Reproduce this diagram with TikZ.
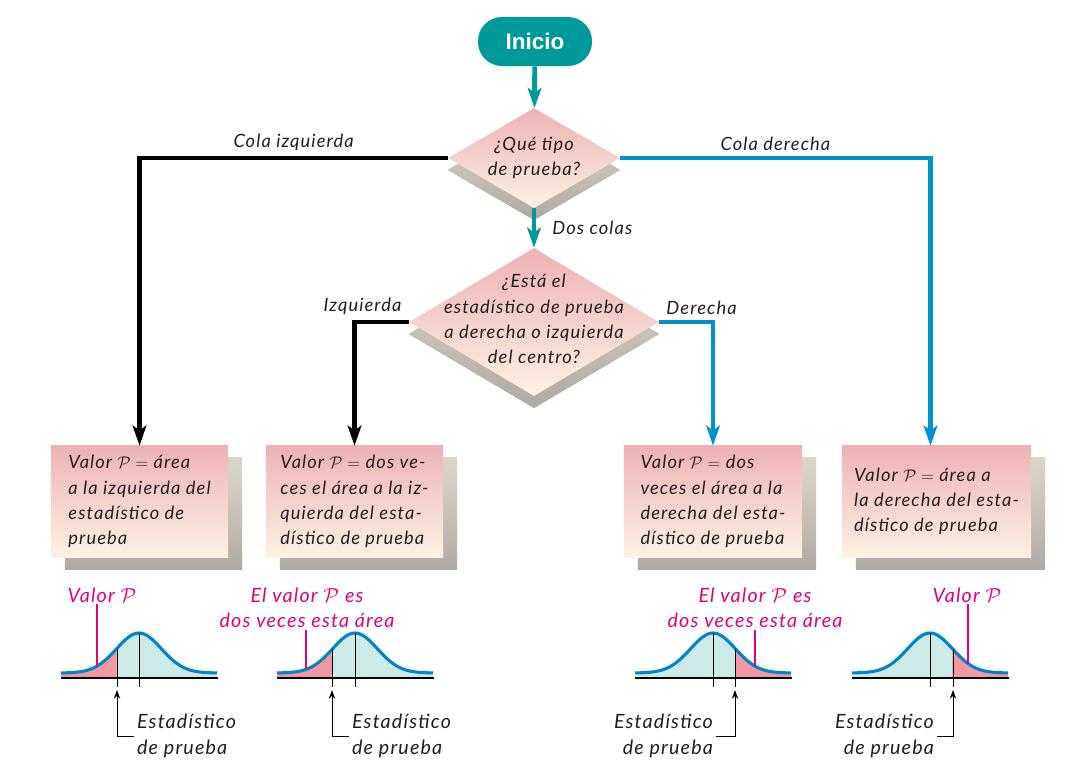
\documentclass[tikz,border=0pt]{standalone}
\usepackage{fontspec}
\setmainfont{Lato}[LetterSpace=6]
\setsansfont{Liberation Sans}
\usepackage{tikz}
\usetikzlibrary{positioning,arrows.meta,calc,shapes.geometric,shadows}
\definecolor{InicioTeal}{RGB}{0,153,153}
\definecolor{FlujoBlue}{RGB}{0,146,208}
\definecolor{DarkText}{RGB}{35,31,32}
\definecolor{BoxPink}{RGB}{237,178,180}
\definecolor{BoxCream}{RGB}{253,242,228}
\definecolor{ShadowLight}{RGB}{220,214,201}
\definecolor{ShadowDark}{RGB}{176,170,165}
\definecolor{LabelMagenta}{RGB}{229,0,126}
\definecolor{CurveBlue}{RGB}{0,133,202}
\definecolor{TailPink}{RGB}{243,152,162}
\definecolor{BodyTeal}{RGB}{204,234,231}

\begin{document}
\begin{tikzpicture}[x=0.025cm,y=0.025cm,font=\fontsize{13}{18}\selectfont\itshape,text=DarkText,
		decision/.style={diamond,inner sep=0pt,top color=BoxPink,bottom color=BoxCream,
			drop shadow={shadow xshift=0mm,shadow yshift=-3mm,opacity=1,top color=ShadowLight,bottom color=ShadowDark}},
		caja/.style={rectangle,minimum height=2.775cm,align=left,top color=BoxPink,bottom color=BoxCream,
			drop shadow={shadow xshift=3.5mm,shadow yshift=-3mm,opacity=1,top color=ShadowLight,bottom color=ShadowDark}},
		conector/.style={line width=3.5pt,-{Stealth[length=5mm,width=3.4mm,inset=1.2mm]}},
		rotulo/.style={text=DarkText},
		valor/.style={text=LabelMagenta,align=center,inner sep=1pt,font=\fontsize{14}{18}\selectfont\itshape},
		puntero/.style={LabelMagenta,line width=0.8pt},
		estad/.style={inner sep=2pt,font=\fontsize{14}{18}\selectfont\itshape},
		flechita/.style={line width=0.7pt,-{Stealth[length=2.2mm,width=1.6mm]}},
		eje/.style={line width=0.8pt}]
		\useasboundingbox (0,0) rectangle (1078,778);
		\fill[white] (0,0) rectangle (1078,778);
		
		% Inicio y preguntas
		\node[fill=InicioTeal,text=white,rounded corners=0.6cm,minimum width=2.85cm,minimum height=1.225cm,
		font=\sffamily\bfseries\upshape\fontsize{16}{19}\selectfont] (inicio) at (535,736.5) {Inicio};
		\node[decision,minimum width=4.3cm,minimum height=2.5cm] (q1) at (534,620) {};
		\node[align=center] (q1t) at (q1.center) {¿Qué tipo\\de prueba?};
		\node[decision,minimum width=6.25cm,minimum height=3.7cm] (q2) at (534,456) {};
		\node[align=center] (q2t) at ([yshift=2pt]q2.center) {¿Está el\\estadístico de prueba\\a derecha o izquierda\\del centro?};
		
		% Cajas de resultado
		\node[caja,minimum width=4.425cm] (b1) at (139.5,276.5)
		{Valor $\mathcal{P} =$ área\\a la izquierda del\\estadístico de\\prueba};
		\node[caja,minimum width=4.425cm] (b2) at (354.5,276.5)
		{Valor $\mathcal{P} =$ dos ve-\\ces el área a la iz-\\quierda del esta-\\dístico de prueba};
		\node[caja,minimum width=4.45cm] (b3) at (713,276.5)
		{Valor $\mathcal{P} =$ dos\\veces el área a la\\derecha del esta-\\dístico de prueba};
		\node[caja,minimum width=4.725cm] (b4) at (936.5,276.5)
		{Valor $\mathcal{P} =$ área a\\la derecha del esta-\\dístico de prueba};
		
		% Conectores
		\draw[conector,InicioTeal] (inicio) -- (q1);
		\draw[conector,InicioTeal] (q1) -- (q2) node[rotulo,midway,right=8pt] {Dos colas};
		\draw[conector] (q1.west) -| (b1.north) node[rotulo,pos=0.25,above] {Cola izquierda};
		\draw[conector,FlujoBlue] (q1.east) -| ($(b4.north)+(-6,0)$) node[rotulo,pos=0.25,above] {Cola derecha};
		\draw[conector] (q2.west) -| (b2.north) node[rotulo,pos=0,above left] {Izquierda};
		\draw[conector,FlujoBlue] (q2.east) -| (b3.north) node[rotulo,pos=0,above right] {Derecha};
		
		% Curvas normales
		\foreach \cx/\sx/\ta/\tb in {139/117/-78/-22.4,355/332/-78/-22.4,713/735/22.4/78,930/953/22.4/78}{
			\fill[BodyTeal] (\cx-78,100) -- plot[domain=-78:78,samples=61] ({\cx+\x},{105+40*exp(-(\x)*(\x)/1003.52)}) -- (\cx+78,100) -- cycle;
			\fill[TailPink] (\cx+\ta,100) -- plot[domain=\ta:\tb,samples=30] ({\cx+\x},{105+40*exp(-(\x)*(\x)/1003.52)}) -- (\cx+\tb,100) -- cycle;
			\draw[CurveBlue,line width=2.2pt] plot[domain=-78:78,samples=61] ({\cx+\x},{105+40*exp(-(\x)*(\x)/1003.52)});
			\draw[eje] (\cx-78,100) -- (\cx+79,100);
			\draw[line width=0.6pt] (\cx,145) -- (\cx,91);
			\draw[line width=0.6pt] (\sx,129.3) -- (\sx,91);
		}
		
		% Valor P
		\node[valor] (v1) at (102,183) {Valor $\mathcal{P}$};
		\node[valor] (v2) at (307,170) {El valor $\mathcal{P}$ es\\dos veces esta área};
		\node[valor] (v3) at (755,170) {El valor $\mathcal{P}$ es\\dos veces esta área};
		\node[valor] (v4) at (967,183) {Valor $\mathcal{P}$};
		\coordinate (p1) at (97,112);
		\coordinate (p2) at (306,110);
		\coordinate (p3) at (755,112);
		\coordinate (p4) at (968,114.5);
		\draw[puntero] (p1) -- (p1 |- v1.south);
		\draw[puntero] (p2) -- (p2 |- v2.south);
		\draw[puntero] (p3) -- (p3 |- v3.south);
		\draw[puntero] (p4) -- (p4 |- v4.south);
		
		% Estadistico de prueba
		\coordinate (s1) at (117,88);
		\coordinate (s2) at (332,88);
		\coordinate (s3) at (735,88);
		\coordinate (s4) at (953,88);
		\node[estad,anchor=west,align=left] (e1) at (134,42) {Estadístico\\de prueba};
		\node[estad,anchor=west,align=left] (e2) at (349,42) {Estadístico\\de prueba};
		\node[estad,anchor=east,align=right] (e3) at (716,42) {Estadístico\\de prueba};
		\node[estad,anchor=east,align=right] (e4) at (937,42) {Estadístico\\de prueba};
		\draw[flechita] (e1.west) -| (s1);
		\draw[flechita] (e2.west) -| (s2);
		\draw[flechita] (e3.east) -| (s3);
		\draw[flechita] (e4.east) -| (s4);
	\end{tikzpicture}
\end{document}
